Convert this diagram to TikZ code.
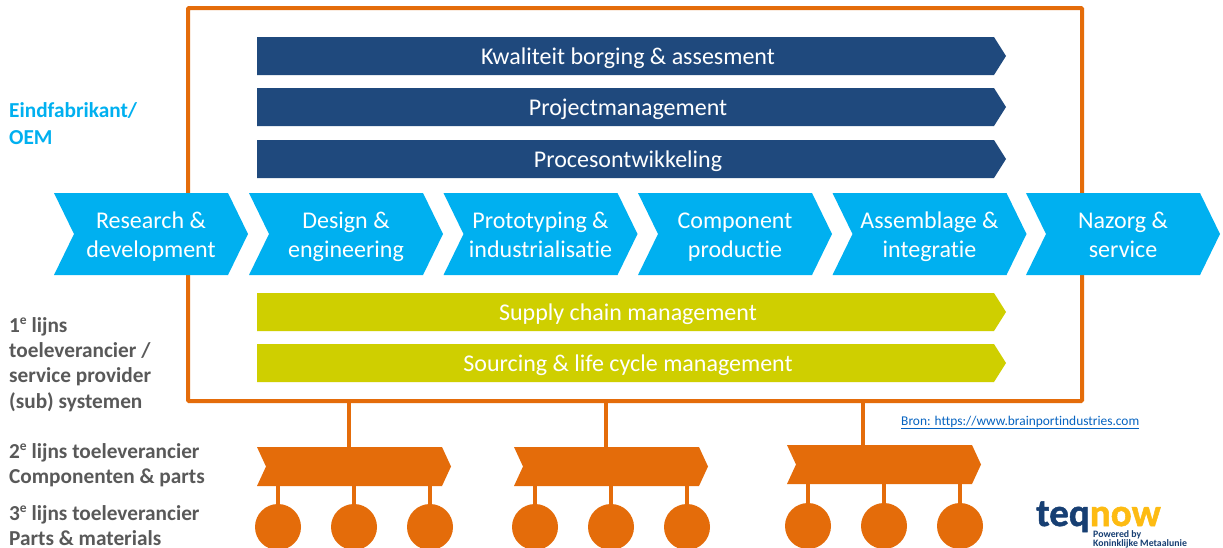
\documentclass[tikz,border=0pt]{standalone}
\usepackage{fontspec}
\setmainfont[Ligatures={NoCommon}]{Carlito}
\newfontfamily\logofont[FakeBold=1.3]{Carlito Bold}
\definecolor{navybar}{HTML}{1F497D}
\definecolor{skychev}{HTML}{00B0F0}
\definecolor{limebar}{HTML}{CFCF00}
\definecolor{orangeline}{HTML}{E46C0A}
\definecolor{greytext}{HTML}{595959}
\definecolor{linkblue}{HTML}{0563C1}
\definecolor{logoyellow}{HTML}{FDBB12}
\definecolor{logonavy}{HTML}{173F73}
\tikzset{
  chevlabel/.style={inner sep=0pt,yshift=-2.7pt,text=white,align=center,font=\fontsize{24}{29}\selectfont},
  barlabel/.style={inner sep=0pt,yshift=-2.5pt,text=white,font=\fontsize{24}{26}\selectfont},
  sidelabel/.style={anchor=north west,inner sep=0pt,align=left,font=\fontsize{21.3}{25.3}\selectfont\bfseries},
  orangelink/.style={draw=orangeline,line width=4pt},
  leaflink/.style={draw=orangeline,line width=4pt},
  leaf/.style={circle,fill=orangeline,minimum size=46pt,inner sep=0pt},
}
% \chev{name}{left}{top}{width}{height}{notch}{colour}{style}{text}
\newcommand{\chev}[9]{%
  \fill[#7] (#2,#3) -- (#2+#4-#6,#3) -- (#2+#4,#3+#5/2) -- (#2+#4-#6,#3+#5)
     -- (#2,#3+#5) -- (#2+#6,#3+#5/2) -- cycle;
  \node[#8,minimum width=#4 pt,minimum height=#5 pt] (#1) at (#2+#4/2,#3+#5/2) {#9};
}
\newcommand{\flowbar}[5]{%
  \fill[#4] (257,#2) -- (994,#2) -- (1006,#2+19) -- (994,#2+38) -- (257,#2+38) -- cycle;
  \node[barlabel] (#1) at (#5,#2+19) {#3};
}
\newcommand{\sups}[1]{\raisebox{0.36em}{\fontsize{13.5}{13.5}\selectfont\bfseries #1}}
\begin{document}
\begin{tikzpicture}[x=1pt,y=-1pt]
\useasboundingbox (0,0) rectangle (1223,547);
\clip (0,0) rectangle (1223,547);
\fill[white] (0,0) rectangle (1223,547);
% frame
\node[draw=orangeline,line width=4pt,minimum width=894pt,minimum height=393pt,inner sep=0pt,rounded corners=1pt] (frame) at (635,204.5) {};
% bars
\flowbar{kw}{37}{Kwaliteit borging \& assesment}{navybar}{628}
\flowbar{pm}{88}{Projectmanagement}{navybar}{628}
\flowbar{po}{140}{Procesontwikkeling}{navybar}{628}
\flowbar{sc}{293}{Supply chain management}{limebar}{628}
\flowbar{sl}{344}{Sourcing \& life cycle management}{limebar}{628}
% chain
\chev{rd}{54}{193}{194}{82}{20}{skychev}{chevlabel}{\strut Research \&\\\strut development}
\chev{de}{249}{193}{194}{82}{20}{skychev}{chevlabel}{\strut Design \&\\\strut engineering}
\chev{pi}{443.5}{193}{194}{82}{20}{skychev}{chevlabel}{\strut Prototyping \&\\\strut industrialisatie}
\chev{cp}{638}{193}{194}{82}{20}{skychev}{chevlabel}{\strut Component\\\strut productie}
\chev{ai}{832.5}{193}{194}{82}{20}{skychev}{chevlabel}{\strut Assemblage \&\\\strut integratie}
\chev{ns}{1026}{193}{194}{82}{20}{skychev}{chevlabel}{\strut Nazorg \&\\\strut service}
% suppliers
\coordinate (fa) at (349,401);
\coordinate (fb) at (606,401);
\coordinate (fc) at (863,401);
\chev{sa}{257}{447}{194}{39}{9}{orangeline}{inner sep=0pt}{}
\chev{sb}{514}{447}{194}{39}{9}{orangeline}{inner sep=0pt}{}
\chev{sc2}{787}{445}{194}{39}{9}{orangeline}{inner sep=0pt}{}
\draw[orangelink] (fa) -- (fa |- sa.north);
\draw[orangelink] (fb) -- (fb |- sb.north);
\draw[orangelink] (fc) -- (fc |- sc2.north);
\foreach \n/\x/\y/\s in {a1/278/527/sa,a2/354/527/sa,a3/430/527/sa,b1/535/527/sb,b2/611/527/sb,b3/687/527/sb,c1/808/526/sc2,c2/884/526/sc2,c3/960/526/sc2}{
  \node[leaf] (\n) at (\x,\y) {};
  \draw[leaflink] (\n.center) -- (\n.center |- \s.south);
}
% side labels
\node[sidelabel,text=skychev] (oem) at (9,102) {Eindfabrikant/\\[1.7pt]OEM};
\node[sidelabel,text=greytext] (first) at (9,317) {1\sups{e} lijns\\toeleverancier /\\service provider\\(sub) systemen};
\node[sidelabel,text=greytext] (second) at (9,443) {2\sups{e} lijns toeleverancier\\Componenten \& parts};
\node[sidelabel,text=greytext] (third) at (9,505) {3\sups{e} lijns toeleverancier\\Parts \& materials};
% source
\node[anchor=west,inner sep=0pt,text=linkblue,font=\fontsize{13.4}{15}\selectfont] (src) at (901,422.5) {\underline{Bron: https://www.brainportindustries.com}};
% logo
\node[anchor=base west,inner sep=0pt,text depth=0pt,font=\fontsize{39}{39}\selectfont\logofont] (logo) at (1036,526) {\textcolor{logonavy}{teq}\textcolor{logoyellow}{now}};
\node[anchor=north west,inner sep=0pt,align=left,text=logonavy,font=\fontsize{9.8}{9.5}\selectfont\bfseries] (pow) at (1093,530) {Powered by\\Koninklijke Metaalunie};
\end{tikzpicture}
\end{document}
